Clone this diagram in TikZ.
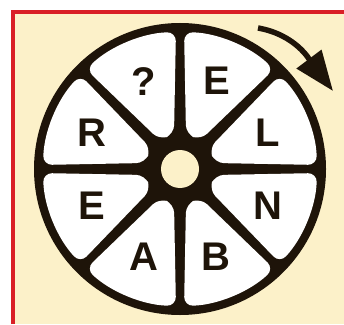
\documentclass[tikz,border=0pt]{standalone}
\usepackage{fontspec}
\setmainfont{Liberation Sans}
\usepackage{tikz}
\usetikzlibrary{arrows.meta,positioning,calc}
\definecolor{cream}{HTML}{FCF1C9}
\definecolor{framered}{HTML}{D91F26}
\definecolor{wheelink}{HTML}{1E1409}

\begin{document}
\begin{tikzpicture}[x=1pt, y=1pt,
    letter/.style={font=\fontsize{40}{40}\selectfont\bfseries, text=wheelink, inner sep=0pt},
    sector/.style={fill=white, rounded corners=9pt},
    arrow/.style={-{Triangle[length=40pt, width=30pt]}, line width=5.5pt, wheelink},
]
    \useasboundingbox (0,0) rectangle (344,324);
    \fill[white] (0,0) rectangle (344,324);
    \fill[cream] (15,0) rectangle (344,310);
    \draw[framered, line width=4pt] (13,0) -- (13,312) -- (344,312);

    % wheel
    \coordinate (hub) at (180,155);
    \fill[wheelink] (hub) circle[radius=146];
    \foreach \a in {0,45,...,315} {
      \fill[sector] ($(hub)+(\a+1.7:137)$) arc[start angle=\a+1.7, end angle=\a+43.3, radius=137]
        -- ($(hub)+(\a+45:35)+(\a-45:6)$) -- ($(hub)+(\a:35)+(\a+90:6)$) -- cycle;
    }
    \fill[cream] (hub) circle[radius=19];

    % letters, clockwise from top
    \node[letter] (eTop) at ($(hub)+(67.5:95)$) {E};
    \node[letter] (lRight) at ($(hub)+(22.5:95)$) {L};
    \node[letter] (nRight) at ($(hub)+(-22.5:95)$) {N};
    \node[letter] (bBottom) at ($(hub)+(-67.5:95)$) {B};
    \node[letter] (aBottom) at ($(hub)+(-112.5:95)$) {A};
    \node[letter] (eLeft) at ($(hub)+(-157.5:95)$) {E};
    \node[letter] (rLeft) at ($(hub)+(157.5:95)$) {R};
    \node[letter] (qTop) at ($(hub)+(112.5:95)$) {?};

    % turning direction
    \coordinate (spinS) at (258,296);
    \coordinate (spinE) at (333,233);
    \draw[arrow] (spinS) to[out=-10, in=127] (spinE);
\end{tikzpicture}
\end{document}
